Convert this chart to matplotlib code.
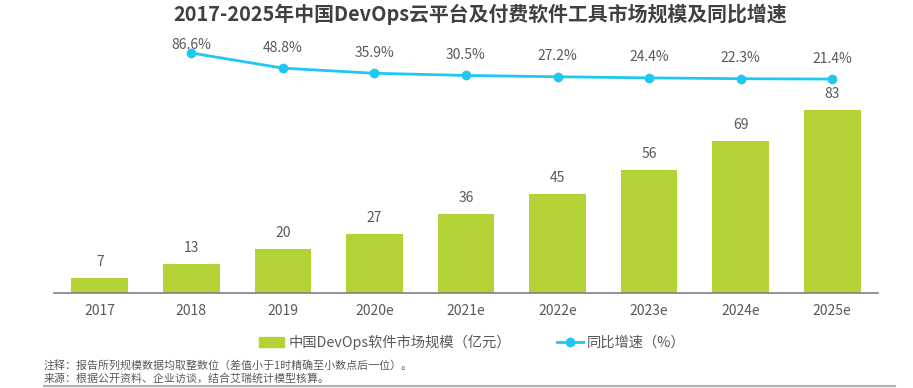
import matplotlib
matplotlib.use("Agg")
import matplotlib.pyplot as plt
from matplotlib.patches import Patch
from matplotlib.lines import Line2D

plt.rcParams["font.family"] = ["Noto Sans CJK SC", "DejaVu Sans"]

years = ["2017", "2018", "2019", "2020e", "2021e", "2022e", "2023e", "2024e", "2025e"]
market = [7, 13, 20, 27, 36, 45, 56, 69, 83]            # 亿元
growth = [86.6, 48.8, 35.9, 30.5, 27.2, 24.4, 22.3, 21.4]  # %, 2018-2025e

bar_color = "#b2d235"
line_color = "#1ec8f0"
text_color = "#595959"

W, H = 913, 388
fig = plt.figure(figsize=(W / 100, H / 100), dpi=100)

# axes box in pixels (from top-left)
left, right, top, bottom = 54, 878, 40, 293
ax = fig.add_axes([left / W, 1 - bottom / H, (right - left) / W, (bottom - top) / H])

x = list(range(len(years)))
ax.bar(x, market, width=0.62, color=bar_color)
for xi, v in zip(x, market):
    ax.annotate(str(v), (xi, v), xytext=(0, 11.5), textcoords="offset points",
                ha="center", va="center", fontsize=10, color=text_color)

ax.set_xlim(-0.5, len(years) - 0.5)
ax.set_ylim(0, 115)
ax.set_xticks(x)
ax.set_xticklabels(years, fontsize=10, color=text_color)
ax.tick_params(axis="x", length=0, pad=8)
ax.set_yticks([])
for s in ["top", "right", "left"]:
    ax.spines[s].set_visible(False)
ax.spines["bottom"].set_color("#808080")
ax.spines["bottom"].set_linewidth(1.2)

ax2 = ax.twinx()
gx = x[1:]
ax2.plot(gx, growth, color=line_color, linewidth=2, marker="o", markersize=6)
for i, (xi, v) in enumerate(zip(gx, growth)):
    dy = 6 if i == 0 else 14.8   # first label sits close to the point (title above)
    ax2.annotate("%.1f%%" % v, (xi, v), xytext=(0, dy), textcoords="offset points",
                 ha="center", va="center", fontsize=10, color=text_color)
ax2.set_ylim(-513.4, 119.1)
ax2.set_yticks([])
for s in ["top", "right", "left", "bottom"]:
    ax2.spines[s].set_visible(False)

fig.text(480 / W, 1 - 14 / H, "2017-2025年中国DevOps云平台及付费软件工具市场规模及同比增速",
         ha="center", va="center", fontsize=14.3, fontweight="bold", color="#404040")

handles = [Patch(color=bar_color),
           Line2D([0], [0], color=line_color, linewidth=2, marker="o", markersize=6)]
fig.legend(handles, ["中国DevOps软件市场规模（亿元）", "同比增速（%）"],
           loc="center", bbox_to_anchor=(472 / W, 1 - 342 / H), ncol=2, frameon=False,
           fontsize=10.3, labelcolor=text_color, columnspacing=3.2, handlelength=1.8,
           handletextpad=0.3)

fig.text(44 / W, 1 - 365 / H, "注释：报告所列规模数据均取整数位（差值小于1时精确至小数点后一位）。",
         ha="left", va="center", fontsize=7.9, color=text_color)
fig.text(44 / W, 1 - 379 / H, "来源：根据公开资料、企业访谈，结合艾瑞统计模型核算。",
         ha="left", va="center", fontsize=7.9, color=text_color)
fig.add_artist(Line2D([44 / W, 895 / W], [1 - 386 / H, 1 - 386 / H], color="#b0b0b0", linewidth=1.5))

fig.savefig("out.png", dpi=100)
